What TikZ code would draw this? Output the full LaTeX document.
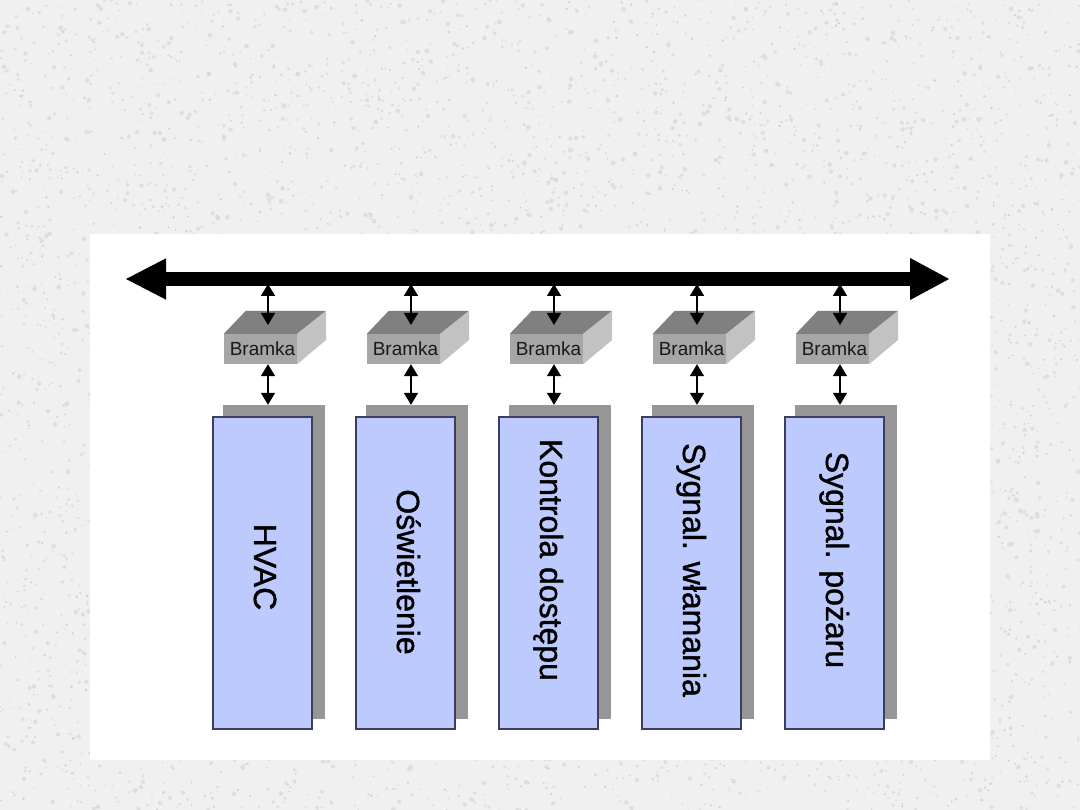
\documentclass[tikz,border=0pt]{standalone}
\usepackage{fontspec}
\setmainfont{Liberation Sans}
\newfontfamily\colfont[FakeBold=1.2]{Liberation Sans}
\usetikzlibrary{arrows.meta}
\definecolor{bg}{HTML}{F0F0F0}
\definecolor{speck}{HTML}{D2D2D2}
\definecolor{speckb}{HTML}{DEDEDE}
\definecolor{colblue}{HTML}{BDCAFD}
\definecolor{colborder}{HTML}{3E3E5C}
\definecolor{shadowgray}{HTML}{969696}
\definecolor{gtop}{HTML}{808080}
\definecolor{gfront}{HTML}{A6A6A6}
\definecolor{gside}{HTML}{C2C2C2}
\begin{document}
\begin{tikzpicture}[x=1pt,y=-1pt,
  colbox/.style={draw=colborder, line width=1.2pt, fill=colblue, minimum width=99pt, minimum height=312pt, inner sep=0pt},
  colshadow/.style={fill=shadowgray, minimum width=102pt, minimum height=314pt, inner sep=0pt},
  gatefront/.style={fill=gfront, minimum width=73pt, minimum height=30pt, inner sep=0pt, font=\fontsize{19}{22}\selectfont, text=black!90},
  coltext/.style={font=\colfont\fontsize{32}{38}\selectfont, rotate=-90, inner sep=0pt, text height=23pt, text depth=0pt},
  link/.style={line width=1.6pt, {Triangle[width=14pt,length=12pt]}-{Triangle[width=14pt,length=12pt]}},
  bus/.style={line width=14pt, {Triangle[width=38pt,length=41pt]}-{Triangle[width=39pt,length=40pt]}}
]
\useasboundingbox (0,0) rectangle (1080,810);
\fill[bg] (0,0) rectangle (1080,810);
% granite texture of the background
\pgfmathsetseed{7}
\foreach \k in {1,...,3500} {
  \fill[speckb] (rnd*1080,rnd*810) circle (0.8+rnd*1.6);
}
\foreach \k in {1,...,2500} {
  \fill[speck] (rnd*1080,rnd*810) circle (0.5+rnd*0.9);
}
\fill[white] (90,234) rectangle (990,760);

% bus
\coordinate (busL) at (125,279);
\coordinate (busR) at (950,279);
\draw[bus] (busL) -- (busR);

\foreach \i/\x in {1/268,2/411,3/554,4/697,5/840} {
  \coordinate (ax\i) at (\x,0);
  % gateway
  \node[gatefront] (g\i) at (\x-7.5,349) {\raisebox{-3pt}{\kern4pt Bramka}};
  \fill[gtop] (g\i.north west) -- (g\i.north east) -- ++(29,-23)
     -- ([shift={(22,-23)}]g\i.north west) -- cycle;
  \fill[gside] (g\i.north east) -- ++(29,-23) -- ++(0,29) -- (g\i.south east) -- cycle;
  % column
  \node[colshadow] (s\i) at (\x+6,562) {};
  \node[colbox] (c\i) at (\x-5.5,573) {};
  % connectors
  \coordinate (bt\i) at (\x,284);
  \coordinate (gt\i) at (\x,325);
  \draw[link] (bt\i) -- (gt\i);
  \draw[link] (g\i.south -| ax\i) -- (s\i.north -| ax\i);
}

\node[coltext] (t1) at (268-2.5,567) {HVAC};
\node[coltext] (t2) at (411-2.5,572) {Oświetlenie};
\node[coltext] (t3) at (554-2.5,560) {Kontrola dostępu};
\node[coltext] (t4) at (697-2.5,570) {Sygnal. włamania};
\node[coltext] (t5) at (840-2.5,560) {Sygnal. pożaru};
\end{tikzpicture}
\end{document}
